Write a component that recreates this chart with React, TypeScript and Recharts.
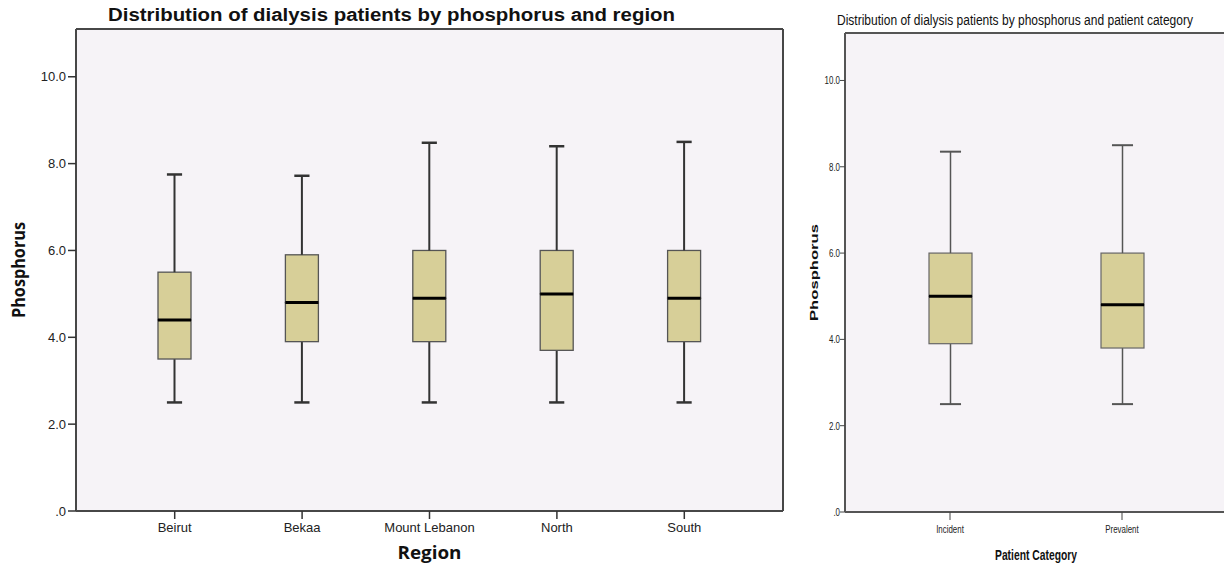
import React from 'react';
import { ComposedChart, Bar, XAxis, YAxis, CartesianGrid, Label } from 'recharts';

// phosphorus by region (min, Q1, median, Q3, max)
const regions = ['Beirut', 'Bekaa', 'Mount Lebanon', 'North', 'South'];
const regionMin = [2.5, 2.5, 2.5, 2.5, 2.5];
const regionQ1 = [3.5, 3.9, 3.9, 3.7, 3.9];
const regionMedian = [4.4, 4.8, 4.9, 5.0, 4.9];
const regionQ3 = [5.5, 5.9, 6.0, 6.0, 6.0];
const regionMax = [7.75, 7.72, 8.48, 8.4, 8.5];

// phosphorus by patient category
const patientCategories = ['Incident', 'Prevalent'];
const categoryMin = [2.5, 2.5];
const categoryQ1 = [3.9, 3.8];
const categoryMedian = [5.0, 4.8];
const categoryQ3 = [6.0, 6.0];
const categoryMax = [8.35, 8.5];

const yTicks = [0, 2, 4, 6, 8, 10];
const yDomain = [0, 11.1];

const PLOT_BG = '#F6F3F7';
const BOX_FILL = '#D7CF98';
const SANS = "'Liberation Sans', Arial, sans-serif";
const HUMANIST = "'Open Sans', 'Liberation Sans', sans-serif";

const fmtY = (v: number) => (v === 0 ? '.0' : v.toFixed(1));

function toRows(names: string[], mins: number[], q1: number[], med: number[], q3: number[], maxs: number[]) {
  return names.map((name, i) => ({
    name,
    base: mins[i],
    lowWhisker: q1[i] - mins[i],
    lowBox: med[i] - q1[i],
    highBox: q3[i] - med[i],
    highWhisker: maxs[i] - q3[i],
  }));
}

type Look = {
  line: string;
  lineWidth: number;
  cap: number; // cap width as share of the box width
  boxStroke: string;
  boxStrokeWidth: number;
  median: number;
};

const whiskerShape = (look: Look, capAt: 'top' | 'bottom') => (p: any) => {
  const { x, y, width, height } = p;
  const cx = x + width / 2;
  const capY = capAt === 'top' ? y : y + height;
  const half = (width * look.cap) / 2;
  return (
    <g>
      <line x1={cx} x2={cx} y1={y} y2={y + height} stroke={look.line} strokeWidth={look.lineWidth} />
      <line x1={cx - half} x2={cx + half} y1={capY} y2={capY} stroke={look.line} strokeWidth={look.lineWidth + 0.5} />
    </g>
  );
};

const boxShape = (look: Look, medianBelow: boolean) => (p: any) => {
  const { x, y, width, height } = p;
  return (
    <g>
      <rect x={x} y={y} width={width} height={height} fill={BOX_FILL} stroke={look.boxStroke} strokeWidth={look.boxStrokeWidth} />
      {medianBelow && (
        <line x1={x} x2={x + width} y1={y + height} y2={y + height} stroke="#000" strokeWidth={look.median} />
      )}
    </g>
  );
};

const Empty = () => <g />;

const Border = ({ color, w }: { color: string; w: number }) => (
  <CartesianGrid
    fill={PLOT_BG}
    stroke={color}
    strokeWidth={w}
    horizontalCoordinatesGenerator={({ offset }: any) => [offset.top, offset.top + offset.height]}
    verticalCoordinatesGenerator={({ offset }: any) => [offset.left, offset.left + offset.width]}
  />
);

const NarrowTick = (props: any) => {
  const { x, y, payload, textAnchor, fontSize, dy, format } = props;
  return (
    <text
      transform={`translate(${x},${y}) scale(0.72,1)`}
      textAnchor={textAnchor}
      dy={dy}
      fontSize={fontSize}
      fontFamily={SANS}
      fill="#222"
      stroke="none"
    >
      {format ? format(payload.value) : payload.value}
    </text>
  );
};

function RegionChart() {
  const rows = toRows(regions, regionMin, regionQ1, regionMedian, regionQ3, regionMax);
  const look: Look = { line: '#333', lineWidth: 2, cap: 0.46, boxStroke: '#555', boxStrokeWidth: 1.3, median: 3 };
  return (
    <ComposedChart width={790} height={567} data={rows} margin={{ top: 29, right: 7, bottom: 0, left: 0 }}>
      <Border color="#474747" w={2} />
      <XAxis
        dataKey="name"
        height={56}
        padding={{ left: 35, right: 35 }}
        axisLine={{ stroke: '#474747', strokeWidth: 2 }}
        tickLine={{ stroke: '#333', strokeWidth: 1.5 }}
        tickSize={8}
        tickMargin={4}
        tick={{ fill: '#222', fontSize: 13, fontFamily: SANS }}
        interval={0}
      >
        <Label
          content={({ viewBox }: any) => (
            <text
              x={viewBox.x + viewBox.width / 2}
              y={viewBox.y + 48}
              textAnchor="middle"
              fontFamily={HUMANIST}
              fontWeight="bold"
              fontSize={18}
              textLength={64}
              lengthAdjust="spacingAndGlyphs"
              fill="#111"
            >
              Region
            </text>
          )}
        />
      </XAxis>
      <YAxis
        width={76}
        type="number"
        domain={yDomain}
        ticks={yTicks}
        tickFormatter={fmtY}
        axisLine={{ stroke: '#474747', strokeWidth: 2 }}
        tickLine={{ stroke: '#333', strokeWidth: 1.5 }}
        tickSize={8}
        tick={{ fill: '#222', fontSize: 13, fontFamily: SANS }}
      >
        <Label
          content={({ viewBox }: any) => {
            const cx = viewBox.x + 18;
            const cy = viewBox.y + viewBox.height / 2;
            return (
              <text
                x={cx}
                y={cy}
                transform={`rotate(-90 ${cx} ${cy})`}
                textAnchor="middle"
                dominantBaseline="central"
                fontFamily={HUMANIST}
                fontWeight="bold"
                fontSize={17}
                textLength={96}
                lengthAdjust="spacingAndGlyphs"
                fill="#111"
              >
                Phosphorus
              </text>
            );
          }}
        />
      </YAxis>
      <Bar dataKey="base" stackId="b" barSize={33} shape={Empty} isAnimationActive={false} />
      <Bar dataKey="lowWhisker" stackId="b" barSize={33} shape={whiskerShape(look, 'bottom')} isAnimationActive={false} />
      <Bar dataKey="lowBox" stackId="b" barSize={33} shape={boxShape(look, false)} isAnimationActive={false} />
      <Bar dataKey="highBox" stackId="b" barSize={33} shape={boxShape(look, true)} isAnimationActive={false} />
      <Bar dataKey="highWhisker" stackId="b" barSize={33} shape={whiskerShape(look, 'top')} isAnimationActive={false} />
    </ComposedChart>
  );
}

function CategoryChart() {
  const rows = toRows(patientCategories, categoryMin, categoryQ1, categoryMedian, categoryQ3, categoryMax);
  const look: Look = { line: '#555', lineWidth: 1.5, cap: 0.49, boxStroke: '#666', boxStrokeWidth: 1.2, median: 3 };
  return (
    <ComposedChart width={460} height={567} data={rows} margin={{ top: 33, right: 13, bottom: 0, left: 0 }}>
      <Border color="#555" w={2} />
      <XAxis
        dataKey="name"
        height={55}
        padding={{ left: 19, right: 19 }}
        axisLine={{ stroke: '#555', strokeWidth: 2 }}
        tickLine={{ stroke: '#444', strokeWidth: 1 }}
        tickSize={8}
        tickMargin={5}
        tick={<NarrowTick fontSize={11} dy="0.71em" />}
        interval={0}
      >
        <Label
          content={({ viewBox }: any) => (
            <text
              x={viewBox.x + viewBox.width / 2}
              y={viewBox.y + 48}
              textAnchor="middle"
              fontFamily={SANS}
              fontWeight="bold"
              fontSize={15}
              textLength={82}
              lengthAdjust="spacingAndGlyphs"
              fill="#111"
            >
              Patient Category
            </text>
          )}
        />
      </XAxis>
      <YAxis
        width={65}
        type="number"
        domain={yDomain}
        ticks={yTicks}
        axisLine={{ stroke: '#555', strokeWidth: 2 }}
        tickLine={{ stroke: '#444', strokeWidth: 1 }}
        tickSize={5}
        tickMargin={0}
        tick={<NarrowTick fontSize={11} dy="0.355em" format={fmtY} />}
      >
        <Label
          content={({ viewBox }: any) => {
            const cx = viewBox.x + 33.5;
            const cy = viewBox.y + viewBox.height / 2;
            return (
              <text
                x={cx}
                y={cy}
                transform={`rotate(-90 ${cx} ${cy})`}
                textAnchor="middle"
                dominantBaseline="central"
                fontFamily={SANS}
                fontWeight="bold"
                fontSize={11}
                textLength={97}
                lengthAdjust="spacingAndGlyphs"
                fill="#111"
              >
                Phosphorus
              </text>
            );
          }}
        />
      </YAxis>
      <Bar dataKey="base" stackId="b" barSize={43} shape={Empty} isAnimationActive={false} />
      <Bar dataKey="lowWhisker" stackId="b" barSize={43} shape={whiskerShape(look, 'bottom')} isAnimationActive={false} />
      <Bar dataKey="lowBox" stackId="b" barSize={43} shape={boxShape(look, false)} isAnimationActive={false} />
      <Bar dataKey="highBox" stackId="b" barSize={43} shape={boxShape(look, true)} isAnimationActive={false} />
      <Bar dataKey="highWhisker" stackId="b" barSize={43} shape={whiskerShape(look, 'top')} isAnimationActive={false} />
    </ComposedChart>
  );
}

export default function App() {
  return (
    <div style={{ position: 'absolute', left: 0, top: 0, width: 1224, height: 567, overflow: 'hidden', background: '#fff' }}>
      <div style={{ position: 'absolute', left: 0, top: 0 }}>
        <RegionChart />
      </div>
      <div style={{ position: 'absolute', left: 780, top: 0 }}>
        <CategoryChart />
      </div>
      <svg width={1224} height={40} style={{ position: 'absolute', left: 0, top: 0, pointerEvents: 'none' }}>
        <text x={108} y={21} fontFamily={SANS} fontWeight="bold" fontSize={18} textLength={567} lengthAdjust="spacingAndGlyphs" fill="#111">
          Distribution of dialysis patients by phosphorus and region
        </text>
        <text
          transform="translate(837,25) scale(0.8,1)"
          fontFamily={SANS}
          fontSize={15}
          textLength={445}
          lengthAdjust="spacingAndGlyphs"
          fill="#111"
        >
          Distribution of dialysis patients by phosphorus and patient category
        </text>
      </svg>
    </div>
  );
}
